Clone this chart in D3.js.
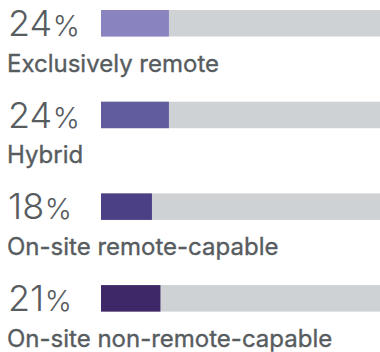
<!DOCTYPE html>
<html>
<head>
<meta charset="utf-8">
<script src="https://cdn.jsdelivr.net/npm/d3@7"></script>
<style>
  html, body { margin: 0; padding: 0; background: #ffffff; }
  svg { display: block; }
</style>
</head>
<body>
<svg id="chart" width="380" height="352"></svg>
<script>
// Work arrangement shares
const categories = ["Exclusively remote", "Hybrid", "On-site remote-capable", "On-site non-remote-capable"];
const values = [24, 24, 18, 21];
const colors = ["#8983bf", "#605c9e", "#4b4085", "#3e2868"];

const width = 380, height = 352;
const svg = d3.select("#chart");

const x = d3.scaleLinear().domain([0, 100]).range([101, 384]);
const y = d3.scaleBand()
  .domain(categories)
  .range([10, 311.6])
  .paddingInner(0.711)
  .paddingOuter(0);

const rows = svg.selectAll("g.row")
  .data(categories.map((c, i) => ({ c, v: values[i], col: colors[i] })))
  .join("g")
  .attr("class", "row");

// background track
rows.append("rect")
  .attr("x", x(0))
  .attr("y", d => y(d.c))
  .attr("width", x(100) - x(0))
  .attr("height", y.bandwidth())
  .attr("fill", "#cfd2d4");

// value bar
rows.append("rect")
  .attr("x", x(0))
  .attr("y", d => y(d.c))
  .attr("width", d => x(d.v) - x(0))
  .attr("height", y.bandwidth())
  .attr("fill", d => d.col);

// percentage figure
const num = rows.append("text")
  .attr("x", 8)
  .attr("y", d => y(d.c) + y.bandwidth() - 0.5)
  .attr("fill", "#575c5f")
  .style("font-family", "Inter, 'Noto Sans', sans-serif")
  .style("font-weight", 300);
num.append("tspan")
  .style("font-size", "36px")
  .text(d => d.v);
num.append("tspan")
  .style("font-size", "29px")
  .attr("dx", 0.5)
  .text("%");

// category label (regular weight thickened slightly with a matching stroke)
rows.append("text")
  .attr("x", 7)
  .attr("y", d => y(d.c) + y.bandwidth() + 35)
  .attr("fill", "#575c5f")
  .attr("stroke", "#575c5f")
  .attr("stroke-width", 0.35)
  .style("font-family", "Inter, 'Noto Sans', sans-serif")
  .style("font-size", "24px")
  .style("font-weight", 400)
  .text(d => d.c);
</script>
</body>
</html>
